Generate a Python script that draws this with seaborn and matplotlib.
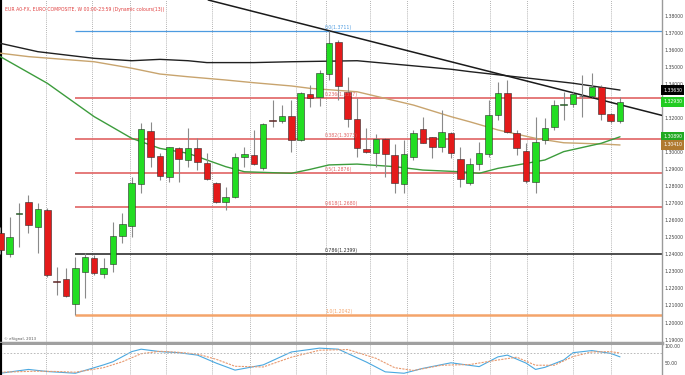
import numpy as np
import pandas as pd
import matplotlib
matplotlib.use("Agg")
import matplotlib.pyplot as plt
import matplotlib.transforms as mtransforms
import seaborn as sns

# Wochenkerzen EUR/USD, Index 0 = angeschnittene Kerze am linken Rand
opens = [1.2523, 1.2400, 1.2636, 1.2708, 1.2558, 1.2660, 1.2241, 1.2257, 1.2108, 1.2294,
         1.2378, 1.2284, 1.2341, 1.2507, 1.2566, 1.2810, 1.3123, 1.2976, 1.2855, 1.3021,
         1.2953, 1.3021, 1.2937, 1.2816, 1.2708, 1.2738, 1.2969, 1.2982, 1.2904, 1.3190,
         1.3183, 1.3213, 1.3070, 1.3338, 1.3324, 1.3457, 1.3647, 1.3353, 1.3192, 1.3016,
         1.2992, 1.3076, 1.2982, 1.2812, 1.2972, 1.3133, 1.3086, 1.3027, 1.3109, 1.2957,
         1.2816, 1.2929, 1.2988, 1.3217, 1.3344, 1.3109, 1.3006, 1.2826, 1.3070, 1.3145,
         1.3277, 1.3280, 1.3331, 1.3326, 1.3379, 1.3223, 1.3182]
highs = [1.2560, 1.2620, 1.2702, 1.2748, 1.2699, 1.2671, 1.2327, 1.2319, 1.2386, 1.2406,
         1.2396, 1.2378, 1.2591, 1.2642, 1.2855, 1.3168, 1.3177, 1.2994, 1.3031, 1.3031,
         1.3139, 1.3080, 1.2994, 1.2826, 1.2796, 1.2994, 1.3031, 1.3129, 1.3168, 1.3305,
         1.3275, 1.3305, 1.3352, 1.3393, 1.3481, 1.3711, 1.3657, 1.3440, 1.3316, 1.3141,
         1.3105, 1.3082, 1.3047, 1.3070, 1.3129, 1.3207, 1.3090, 1.3246, 1.3120, 1.3031,
         1.2963, 1.3060, 1.3305, 1.3412, 1.3422, 1.3129, 1.3051, 1.3207, 1.3197, 1.3305,
         1.3353, 1.3353, 1.3451, 1.3461, 1.3393, 1.3230, 1.3324]
lows = [1.2400, 1.2386, 1.2444, 1.2523, 1.2406, 1.2267, 1.2161, 1.2149, 1.2042, 1.2142,
        1.2280, 1.2261, 1.2298, 1.2468, 1.2503, 1.2758, 1.2914, 1.2836, 1.2826, 1.2826,
        1.2914, 1.2894, 1.2836, 1.2702, 1.2661, 1.2728, 1.2914, 1.2924, 1.2894, 1.3148,
        1.3168, 1.3002, 1.3065, 1.3262, 1.3270, 1.3422, 1.3305, 1.3146, 1.2972, 1.2994,
        1.2914, 1.2855, 1.2758, 1.2758, 1.2953, 1.3051, 1.2963, 1.3002, 1.2963, 1.2796,
        1.2806, 1.2894, 1.2972, 1.3187, 1.3109, 1.2982, 1.2816, 1.2758, 1.3047, 1.3129,
        1.3187, 1.3264, 1.3207, 1.3322, 1.3187, 1.3168, 1.3168]
closes = [1.2425, 1.2503, 1.2642, 1.2572, 1.2664, 1.2278, 1.2238, 1.2155, 1.2318, 1.2382,
          1.2288, 1.2318, 1.2509, 1.2576, 1.2816, 1.3133, 1.2972, 1.2859, 1.3027, 1.2957,
          1.3021, 1.2943, 1.2843, 1.2708, 1.2738, 1.2969, 1.2988, 1.2929, 1.3164, 1.3184,
          1.3213, 1.3070, 1.3344, 1.3318, 1.3465, 1.3641, 1.3387, 1.3193, 1.3021, 1.3002,
          1.3074, 1.2988, 1.2820, 1.2988, 1.3109, 1.3054, 1.3031, 1.3115, 1.2992, 1.2840,
          1.2929, 1.2996, 1.3217, 1.3348, 1.3119, 1.3025, 1.2830, 1.3060, 1.3139, 1.3275,
          1.3283, 1.3340, 1.3327, 1.3383, 1.3223, 1.3182, 1.3293]

# Gleitende Durchschnitte
black_ma_idx = [0, 4, 10, 14, 17, 20, 22, 27, 31, 38, 43, 48, 50, 57, 61, 66]
black_ma = [1.3637, 1.3588, 1.3549, 1.3535, 1.3543, 1.3535, 1.3524, 1.3524, 1.3529,
            1.3535, 1.3510, 1.3485, 1.3471, 1.3428, 1.3403, 1.3363]
tan_ma_idx = [0, 3, 10, 14, 17, 20, 24, 27, 31, 33, 38, 44, 48, 50, 53, 57, 60, 64, 66]
tan_ma = [1.3579, 1.3559, 1.3529, 1.3491, 1.3457, 1.3441, 1.3422, 1.3406, 1.3387, 1.3373,
          1.3353, 1.3275, 1.3207, 1.3177, 1.3129, 1.3080, 1.3054, 1.3047, 1.3041]
green_ma_idx = [0, 5, 10, 14, 17, 20, 24, 26, 31, 33, 35, 38, 42, 45, 49, 51, 53, 56, 58,
                60, 64, 66]
green_ma = [1.3559, 1.3403, 1.3207, 1.3080, 1.3021, 1.2992, 1.2914, 1.2884, 1.2875,
            1.2898, 1.2924, 1.2929, 1.2914, 1.2894, 1.2884, 1.2875, 1.2904, 1.2933,
            1.2953, 1.3002, 1.3051, 1.3089]

# Trendlinie durch zwei Hochpunkte
trend_idx = [35, 64]
trend_px = [1.3711, 1.3305]

# Fibonacci-Retracement
fib_ratios = [0.0, 0.236, 0.382, 0.5, 0.618, 0.786, 1.0]
fib_colors = ["#4d9be0", "#e06464", "#e06464", "#e06464", "#e06464", "#303030", "#f4a46a"]

# Stochastik
stoch_k_idx = [0, 3, 5, 8, 11, 12, 14, 15, 17, 19, 21, 23, 25, 28, 31, 34, 36, 39, 41, 43,
               45, 48, 51, 53, 54, 56, 57, 58, 60, 61, 63, 65, 66]
stoch_k = [22, 33, 27, 22, 46, 55, 84, 91, 84, 81, 74, 51, 31, 46, 83, 94, 91, 54, 26, 22,
           36, 52, 41, 69, 74, 51, 33, 39, 60, 81, 87, 79, 69]
stoch_d_idx = [0, 4, 6, 8, 11, 13, 15, 17, 19, 21, 23, 25, 28, 31, 34, 37, 40, 42, 44, 47,
               50, 53, 55, 57, 59, 61, 63, 65, 66]
stoch_d = [25, 28, 27, 25, 38, 55, 78, 85, 82, 77, 62, 42, 40, 68, 88, 90, 65, 38, 30, 45,
           47, 60, 68, 45, 45, 70, 83, 84, 80]

# Monatsgitter (Kerzenindex)
grid_idx = [4.9, 9.8, 13.8, 17.7, 22.6, 26.6, 31.5, 34.7, 39.4, 43.3, 48.2, 52.2, 56.1,
            61.0, 65.0]
price_ticks = [round(1.19 + 0.01 * k, 2) for k in range(20)]

sns.set_theme(style="white")
plt.rcParams["font.family"] = ["DejaVu Sans"]

df = pd.DataFrame({"O": opens, "H": highs, "L": lows, "C": closes})
df["idx"] = np.arange(len(df))
up = df["C"] >= df["O"]

fig = plt.figure(figsize=(6.85, 3.75), dpi=100)
W, H = 685, 375
ax = fig.add_axes([0, 1 - 343 / H, 662 / W, 343 / H])
ax2 = fig.add_axes([0, 0, 662 / W, 1 - 345 / H], sharex=ax)

# Fibonacci-Linien
hi_idx, lo_idx = int(np.argmax(highs)), int(np.argmin(lows))
fib_hi, fib_lo = max(highs), min(lows)
lab_off = mtransforms.offset_copy(ax.transData, fig=fig, x=0, y=0.8, units="points")
for r, col in zip(fib_ratios, fib_colors):
    lvl = fib_hi - r * (fib_hi - fib_lo)
    lw = 1.8 if r == 1.0 else (0.9 if r == 0.0 else 1.2)
    ax.hlines(lvl, lo_idx, 75, color=col, lw=lw, zorder=2)
    ax.text(hi_idx - 0.4, lvl, f"{r:g}({lvl:.4f})" if r not in (0.0, 1.0) else f"{r:.1f}({lvl:.4f})",
            color=col, fontsize=3.3, ha="left", va="bottom", transform=lab_off, zorder=6)

# Gleitende Durchschnitte und Trendlinie
sns.lineplot(x=black_ma_idx, y=black_ma, ax=ax, color="#202020", lw=1.0, estimator=None, legend=False, zorder=3)
sns.lineplot(x=tan_ma_idx, y=tan_ma, ax=ax, color="#c8a46e", lw=1.0, estimator=None, legend=False, zorder=3)
sns.lineplot(x=green_ma_idx, y=green_ma, ax=ax, color="#3c9c3c", lw=1.0, estimator=None, legend=False, zorder=3)
ax.axline((trend_idx[0], trend_px[0]), (trend_idx[1], trend_px[1]), color="#1a1a1a", lw=1.1, zorder=3)

# Kerzen
ax.vlines(df["idx"], df["L"], df["H"], color="#8a8a8a", lw=0.8, zorder=4)
ax.bar(df["idx"], (df["C"] - df["O"]).abs(), bottom=df[["O", "C"]].min(axis=1), width=0.7,
       color=np.where(up, "#22dd22", "#e41a1a"), edgecolor="#2a2a2a", linewidth=0.4, zorder=5)

ax.set_xlim(-0.03, 70.47)
ax.set_ylim(1.1880, 1.3891)
ax.set_xticks(grid_idx)
ax.set_xticklabels([])
ax.tick_params(axis="x", length=0)
ax.grid(axis="x", color="#9a9a9a", lw=0.6, ls=(0, (1, 1.5)))
ax.grid(axis="y", visible=False)
ax.yaxis.tick_right()
ax.set_yticks(price_ticks)
ax.set_yticklabels([f"{t:.5f}" for t in price_ticks])
ax.tick_params(axis="y", length=0, pad=2, labelsize=3.3, labelcolor="#444444")

for s in ["top"]:
    ax.spines[s].set_visible(False)
ax.spines["left"].set_color("black")
ax.spines["left"].set_linewidth(3)
ax.spines["right"].set_color("#9a9a9a")
ax.spines["right"].set_linewidth(1)
ax.spines["bottom"].set_color("#a0a0a0")
ax.spines["bottom"].set_linewidth(2.5)

# Kursmarken rechts
box_tr = mtransforms.blended_transform_factory(ax.transAxes, ax.transData)
for val, fc in [(black_ma[-1], "black"), (closes[-1], "#22cc22"),
                (green_ma[-1], "#22aa22"), (tan_ma[-1], "#b07a30")]:
    ax.text(1.002, val, f"{val:.5f}", transform=box_tr, fontsize=3.3, color="white",
            ha="left", va="center", clip_on=False, zorder=10,
            bbox=dict(boxstyle="square,pad=0.45", fc=fc, ec="none"))

ax.text(0.0076, 0.971, "EUR A0-FX, EURO COMPOSITE, W 00:00-23:59 (Dynamic colours(13))",
        transform=ax.transAxes, fontsize=3.3, color="#e04040", ha="left", va="center")
ax.text(0.006, 0.012, "\u00a9 eSignal, 2013", transform=ax.transAxes, fontsize=2.8,
        color="#555555", ha="left", va="center")

# Stochastik-Panel
sns.lineplot(x=stoch_k_idx, y=stoch_k, ax=ax2, color="#4aa8e0", lw=0.8, estimator=None, legend=False)
sns.lineplot(x=stoch_d_idx, y=stoch_d, ax=ax2, color="#e89a70", lw=0.8, ls=(0, (2, 1)), estimator=None, legend=False)
ax2.axhline(80, color="#b0b0b0", lw=0.6, ls=(0, (2, 2)))
ax2.set_ylim(17, 103)
ax2.set_xticks(grid_idx)
ax2.tick_params(axis="x", length=0, labelbottom=False)
ax2.grid(axis="x", color="#9a9a9a", lw=0.6, ls=(0, (1, 1.5)))
ax2.grid(axis="y", visible=False)
ax2.yaxis.tick_right()
ax2.set_yticks([50, 100])
ax2.set_yticklabels(["50.00", "100.00"])
ax2.tick_params(axis="y", length=0, pad=2, labelsize=3.3, labelcolor="#444444")
ax2.spines["top"].set_visible(False)
ax2.spines["bottom"].set_visible(False)
ax2.spines["left"].set_color("black")
ax2.spines["left"].set_linewidth(3)
ax2.spines["right"].set_color("#9a9a9a")
ax2.spines["right"].set_linewidth(1)

fig.savefig("out.png", dpi=100)
